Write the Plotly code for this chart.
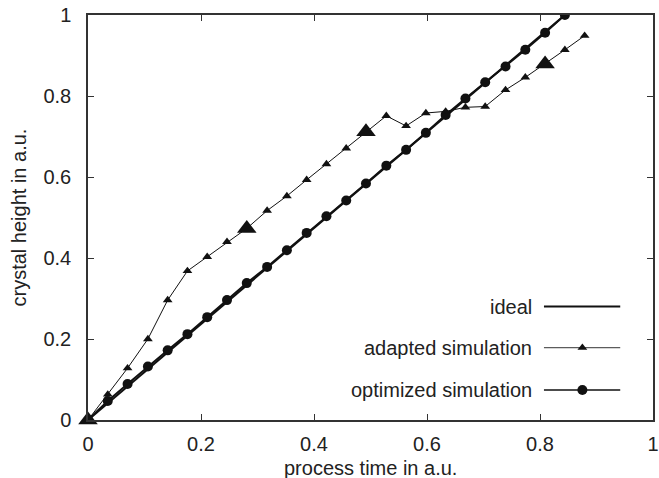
import plotly.graph_objects as go

# ---- data ----
ideal_x = [0.0, 0.844]
ideal_y = [0.0, 1.0]

adapted_x = [0.000, 0.035, 0.070, 0.106, 0.141, 0.176, 0.211, 0.246, 0.281, 0.317,
             0.352, 0.387, 0.422, 0.457, 0.492, 0.528, 0.563, 0.598, 0.633, 0.668,
             0.703, 0.739, 0.774, 0.809, 0.844, 0.879]
adapted_y = [0.000, 0.063, 0.128, 0.200, 0.296, 0.368, 0.403, 0.440, 0.473, 0.517,
             0.553, 0.593, 0.632, 0.671, 0.712, 0.751, 0.726, 0.758, 0.762, 0.772,
             0.774, 0.815, 0.846, 0.879, 0.914, 0.949]
adapted_big = [0, 8, 14, 23]   # indices drawn with the large triangle

optimized_x = [0.000, 0.035, 0.070, 0.106, 0.141, 0.176, 0.211, 0.246, 0.281, 0.317,
               0.352, 0.387, 0.422, 0.457, 0.492, 0.528, 0.563, 0.598, 0.633, 0.668,
               0.703, 0.739, 0.774, 0.809, 0.844]
optimized_y = [0.000, 0.047, 0.089, 0.132, 0.172, 0.212, 0.254, 0.296, 0.338, 0.378,
               0.419, 0.462, 0.503, 0.542, 0.584, 0.628, 0.667, 0.709, 0.753, 0.794,
               0.834, 0.873, 0.914, 0.956, 1.000]

series_names = ["ideal", "adapted simulation", "optimized simulation"]
x_ticks = [0, 0.2, 0.4, 0.6, 0.8, 1]
y_ticks = [0, 0.2, 0.4, 0.6, 0.8, 1]
x_title = "process time in a.u."
y_title = "crystal height in a.u."

INK = "#111111"
FONT = "Liberation Sans, Arial, Helvetica, sans-serif"
FS = 20

fig = go.Figure()

fig.add_trace(go.Scatter(x=ideal_x, y=ideal_y, mode="lines",
                         line=dict(color=INK, width=2), showlegend=False,
                         hoverinfo="skip"))
fig.add_trace(go.Scatter(x=optimized_x, y=optimized_y, mode="lines+markers",
                         line=dict(color=INK, width=2),
                         marker=dict(symbol="circle", size=10, color=INK, opacity=1,
                                     line=dict(width=0)),
                         showlegend=False))
sizes = [17 if i in adapted_big else 8.5 for i in range(len(adapted_x))]
fig.add_trace(go.Scatter(x=adapted_x, y=adapted_y, mode="lines+markers",
                         line=dict(color=INK, width=1), cliponaxis=False,
                         marker=dict(symbol="triangle-up", size=sizes, color=INK,
                                     opacity=1, line=dict(width=0)),
                         showlegend=False))

# ---- manual gnuplot-style key (text right-aligned, sample on the right) ----
key_text_x = 0.790
key_line_x = [0.807, 0.942]
key_mark_x = 0.875
key_rows = [0.280, 0.1785, 0.074]
key_widths = [2, 1, 1.5]
key_symbols = [None, "triangle-up", "circle"]
key_sizes = [0, 8.5, 10]
for name, ry, lw, sym, ms in zip(series_names, key_rows, key_widths, key_symbols, key_sizes):
    fig.add_annotation(x=key_text_x, y=ry, xref="x", yref="y", text=name,
                       showarrow=False, xanchor="right", yanchor="middle",
                       font=dict(family=FONT, size=FS, color="#222"))
    fig.add_trace(go.Scatter(x=key_line_x, y=[ry, ry], mode="lines",
                             line=dict(color="#333" if lw == 1 else INK, width=lw),
                             showlegend=False, hoverinfo="skip"))
    if sym:
        fig.add_trace(go.Scatter(x=[key_mark_x], y=[ry], mode="markers",
                                 marker=dict(symbol=sym, size=ms, color=INK, opacity=1,
                                             line=dict(width=0)),
                                 showlegend=False, hoverinfo="skip"))

axis_common = dict(showline=True, linecolor="#333", linewidth=1.5, mirror="ticks",
                   ticks="inside", ticklen=6, tickwidth=1.2, tickcolor="#333",
                   showgrid=False, zeroline=False,
                   tickfont=dict(family=FONT, size=FS, color="#222"))

fig.update_xaxes(range=[0, 1], tickvals=x_ticks,
                 ticktext=[("%g" % v) for v in x_ticks],
                 ticklabelstandoff=5, ticklabeloverflow="allow", **axis_common)
fig.update_yaxes(range=[0, 1], tickvals=y_ticks,
                 ticktext=[("%g" % v) for v in y_ticks],
                 ticklabelstandoff=11, **axis_common)

fig.add_annotation(x=0.5, y=0, xref="paper", yref="paper", yshift=-48,
                   text=x_title, showarrow=False, xanchor="center", yanchor="middle",
                   font=dict(family=FONT, size=FS, color="#222"))
fig.add_annotation(x=0, y=0.5, xref="paper", yref="paper", xshift=-70,
                   text=y_title, showarrow=False, textangle=-90,
                   xanchor="center", yanchor="middle",
                   font=dict(family=FONT, size=FS, color="#222"))

fig.update_layout(width=659, height=478,
                  margin=dict(l=88, r=0, t=15, b=58),
                  paper_bgcolor="white", plot_bgcolor="white",
                  showlegend=False)

fig.write_html("out.html", config={"displayModeBar": False},
               post_script="document.body.style.margin='0px';")
